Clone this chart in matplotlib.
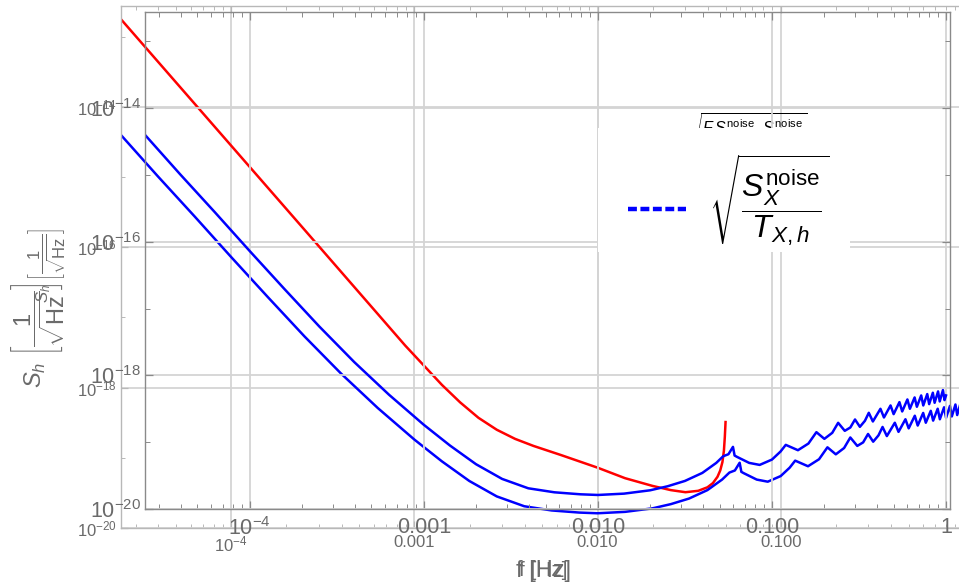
import numpy as np
import matplotlib
import matplotlib.pyplot as plt
from matplotlib.ticker import FixedLocator, FixedFormatter, NullFormatter
from matplotlib.patches import Rectangle
from matplotlib.lines import Line2D

plt.rcParams['font.family'] = ['Liberation Sans', 'DejaVu Sans']
plt.rcParams['mathtext.fontset'] = 'custom'
plt.rcParams['mathtext.rm'] = 'Liberation Sans'
plt.rcParams['mathtext.it'] = 'Liberation Sans:italic'
plt.rcParams['mathtext.bf'] = 'Liberation Sans:bold'
plt.rcParams['mathtext.sf'] = 'Liberation Sans'

# ---------------- data ----------------
# blue curve: sqrt(S_X^noise / T_X,h)   (frequency in Hz, log10 of S_h)
blue_f = [2.5e-5, 3.98e-5, 6.31e-5, 1.0e-4, 1.585e-4, 2.512e-4, 3.98e-4, 6.31e-4,
          1.0e-3, 1.413e-3, 1.995e-3, 2.818e-3, 3.98e-3, 5.62e-3, 7.94e-3, 1.0e-2,
          1.413e-2, 1.995e-2, 2.512e-2, 3.162e-2, 3.98e-2, 4.786e-2, 5.248e-2, 5.623e-2,
          5.97e-2, 6.1e-2, 6.3e-2, 7.4e-2, 8.5e-2, 1.0e-1, 1.12e-1, 1.2e-1,
          1.41e-1, 1.62e-1, 1.8e-1, 2.0e-1, 2.22e-1, 2.4e-1, 2.62e-1, 2.82e-1,
          3.0e-1, 3.2e-1, 3.42e-1, 3.6e-1, 3.8e-1, 4.2e-1, 4.4e-1, 4.8e-1,
          5.0e-1, 5.4e-1, 5.6e-1, 6.0e-1, 6.2e-1, 6.6e-1, 6.8e-1, 7.2e-1,
          7.4e-1, 7.8e-1, 8.0e-1, 8.4e-1, 8.6e-1, 9.0e-1, 9.2e-1, 9.6e-1,
          9.8e-1, 1.0]
blue_logS = [-14.40, -14.99, -15.56, -16.14, -16.71, -17.27, -17.80, -18.29,
             -18.74, -19.05, -19.33, -19.55, -19.69, -19.75, -19.78, -19.79,
             -19.77, -19.72, -19.66, -19.58, -19.46, -19.31, -19.21, -19.18,
             -19.07, -19.20, -19.22, -19.31, -19.34, -19.26, -19.14, -19.04,
             -19.12, -19.02, -18.85, -18.95, -18.86, -18.71, -18.83, -18.78,
             -18.66, -18.77, -18.68, -18.56, -18.69, -18.50, -18.63, -18.45,
             -18.58, -18.40, -18.54, -18.36, -18.50, -18.33, -18.47, -18.30,
             -18.45, -18.28, -18.43, -18.26, -18.41, -18.24, -18.39, -18.22,
             -18.37, -18.30]

# red curve
red_f = [2.5e-5, 2.512e-4, 6.31e-4, 8.91e-4, 1.122e-3, 1.413e-3, 1.778e-3, 2.239e-3,
         2.818e-3, 3.548e-3, 4.467e-3, 6.31e-3, 1.0e-2, 1.413e-2, 1.995e-2, 2.512e-2,
         3.02e-2, 3.548e-2, 3.981e-2, 4.266e-2, 4.519e-2, 4.677e-2, 4.808e-2, 4.898e-2,
         4.955e-2, 5.0e-2]
red_logS = [-12.75, -15.75, -16.95, -17.40, -17.68, -17.96, -18.21, -18.43,
            -18.60, -18.73, -18.83, -18.96, -19.14, -19.29, -19.40, -19.46,
            -19.49, -19.47, -19.42, -19.36, -19.27, -19.18, -19.06, -18.90,
            -18.70, -18.49]

x_ticks = [1e-4, 1e-3, 1e-2, 1e-1, 1.0]
x_tick_labels = [r'$10^{-4}$', '0.001', '0.010', '0.100', '1']
y_ticks = [1e-20, 1e-18, 1e-16, 1e-14]
y_tick_labels = [r'$10^{-20}$', r'$10^{-18}$', r'$10^{-16}$', r'$10^{-14}$']
y_minor = [1e-19, 1e-17, 1e-15, 1e-13]
x_minor = [m * 10.0**e for e in range(-5, 1) for m in range(2, 10)]
xlim = (2.5e-5, 1.054)
ylim = (1e-20, 2.75e-13)

legend_label = r'$\sqrt{\dfrac{S_X^{\mathrm{noise}}}{T_{X,h}}}$'
hidden_label = r'$\sqrt{\dfrac{F\,S_X^{\mathrm{noise}}\ \ S_Y^{\mathrm{noise}}}{T_{X,h}}}$'
ylabel = r'$S_h\ \left[\dfrac{1}{\sqrt{\mathrm{Hz}}}\right]$'
xlabel = 'f [Hz]'

# ---------------- figure ----------------
W, H = 959, 583
fig = plt.figure(figsize=(W / 100, H / 100), dpi=100)
fig.patch.set_facecolor('white')


def rect(l, t, r, b):
    return [l / W, 1 - b / H, (r - l) / W, (b - t) / H]


def fp(x, y):
    return (x / W, 1 - y / H)


grid_c = '#d4d4d4'
lab_c = '#6a6a6a'


def style(ax, spine_c, label_size, major_len, pad_x, pad_y):
    ax.set_xscale('log')
    ax.set_yscale('log')
    ax.set_xlim(*xlim)
    ax.set_ylim(*ylim)
    ax.xaxis.set_major_locator(FixedLocator(x_ticks))
    ax.xaxis.set_major_formatter(FixedFormatter(x_tick_labels))
    ax.xaxis.set_minor_locator(FixedLocator(x_minor))
    ax.xaxis.set_minor_formatter(NullFormatter())
    ax.yaxis.set_major_locator(FixedLocator(y_ticks))
    ax.yaxis.set_major_formatter(FixedFormatter(y_tick_labels))
    ax.yaxis.set_minor_locator(FixedLocator(y_minor))
    ax.yaxis.set_minor_formatter(NullFormatter())
    ax.grid(True, which='major', color=grid_c, lw=1.3)
    ax.set_axisbelow(True)
    for s in ax.spines.values():
        s.set_color(spine_c)
        s.set_linewidth(1.0)
    ax.tick_params(which='both', direction='in', top=True, right=True,
                   color=spine_c, labelcolor=lab_c, labelsize=label_size)
    ax.tick_params(which='major', length=major_len, width=0.9)
    ax.tick_params(which='minor', length=major_len * 0.55, width=0.7)
    ax.tick_params(axis='x', which='major', pad=pad_x)
    ax.tick_params(axis='y', which='major', pad=pad_y)


# outer (larger scale) copy
ax2 = fig.add_axes(rect(121, 6, 968, 528))
style(ax2, '#b8b8b8', 12, 5, 5, 3)
ax2.set_facecolor('white')
ax2.plot(red_f, 10.0 ** np.array(red_logS), color='#ff0000', lw=1.8)
ax2.plot(blue_f, 10.0 ** np.array(blue_logS), color='#0000ff', lw=1.8)
ax2.text(*fp(687, 111), hidden_label, transform=fig.transFigure, fontsize=11.5,
         color='black', ha='left', va='top', clip_on=False)

# inner copy
ax1 = fig.add_axes(rect(145, 12, 950, 509))
style(ax1, '#8a8a8a', 15.5, 6, 6, 3)
ax1.set_facecolor('none')
ax1.plot(blue_f, 10.0 ** np.array(blue_logS), color='#0000ff', lw=1.8)

# legend box over both copies
ax1.add_patch(Rectangle(fp(598, 252), 252 / W, 124 / H, transform=fig.transFigure,
                        facecolor='white', edgecolor='none', zorder=20, clip_on=False))
leg = ax1.legend(handles=[Line2D([], [], color='#0000ff', lw=3.2, dashes=(2.0, 0.8))],
                 labels=[legend_label], loc='center left',
                 bbox_to_anchor=fp(628, 201), bbox_transform=fig.transFigure,
                 frameon=False, fontsize=23, handlelength=1.8, handletextpad=0.75,
                 borderpad=0, borderaxespad=0)
leg.set_zorder(25)

# axis labels (two overlapping copies, as in the picture)
fig.text(*fp(38, 335), ylabel, rotation=90, fontsize=17, color=lab_c,
         ha='center', va='center')
fig.text(*fp(47, 266), ylabel, rotation=90, fontsize=12, color=lab_c,
         ha='center', va='center')
fig.text(*fp(516, 577), xlabel, fontsize=17, color=lab_c, ha='left', va='baseline')
fig.text(*fp(519, 576), xlabel, fontsize=15, color=lab_c, ha='left', va='baseline')

fig.savefig('out.png', dpi=100)
